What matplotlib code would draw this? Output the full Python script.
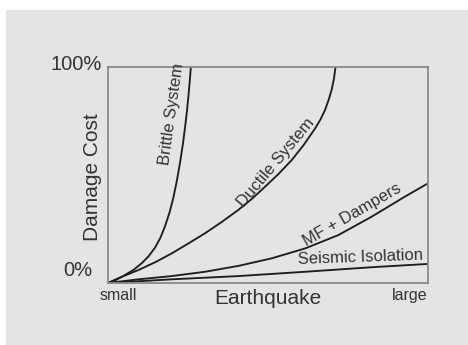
import matplotlib
matplotlib.use("Agg")
import matplotlib.pyplot as plt
from matplotlib.patches import Rectangle

plt.rcParams['font.family'] = ['Liberation Sans', 'DejaVu Sans']

# curves (x: earthquake size 0..1, y: damage cost 0..1)
brittle_x = [0, 0.025, 0.053, 0.08, 0.105, 0.127, 0.147, 0.164, 0.178, 0.192, 0.204, 0.215,
             0.225, 0.234, 0.241, 0.247, 0.251, 0.255, 0.259]
brittle_y = [0, 0.014, 0.037, 0.061, 0.091, 0.124, 0.164, 0.21, 0.262, 0.325, 0.393, 0.472,
             0.556, 0.643, 0.723, 0.80, 0.86, 0.927, 1.0]

ductile_x = [0, 0.032, 0.095, 0.15, 0.199, 0.25, 0.303, 0.355, 0.407, 0.45, 0.491, 0.533,
             0.574, 0.612, 0.647, 0.665, 0.678, 0.69, 0.699, 0.706, 0.711]
ductile_y = [0, 0.022, 0.060, 0.098, 0.137, 0.182, 0.230, 0.282, 0.338, 0.39, 0.446, 0.505,
             0.569, 0.64, 0.715, 0.76, 0.80, 0.85, 0.895, 0.945, 1.0]

mf_x = [0, 0.095, 0.199, 0.303, 0.407, 0.511, 0.616, 0.72, 0.824, 0.928, 0.996]
mf_y = [0, 0.017, 0.032, 0.052, 0.079, 0.114, 0.16, 0.222, 0.307, 0.40, 0.458]

iso_x = [0, 0.199, 0.407, 0.616, 0.824, 0.996]
iso_y = [0, 0.017, 0.032, 0.052, 0.073, 0.088]

labels = ['Brittle System', 'Ductile System', 'MF + Dampers', 'Seismic Isolation']

bg = '#e4e4e4'
ink = '#1e1e1e'
txt = '#333333'

fig = plt.figure(figsize=(4.68, 3.45), dpi=100)
fig.patch.set_facecolor('white')
fig.patches.append(Rectangle((6 / 468, 0), 1, 1 - 10 / 345, transform=fig.transFigure,
                             facecolor=bg, edgecolor='none', zorder=-5))

ax = fig.add_axes([108 / 468, 62 / 345, 320 / 468, 216 / 345])
ax.set_facecolor(bg)

for xs, ys in [(brittle_x, brittle_y), (ductile_x, ductile_y), (mf_x, mf_y), (iso_x, iso_y)]:
    ax.plot(xs, ys, color=ink, lw=1.35, solid_joinstyle='round', solid_capstyle='round')

ax.set_xlim(0, 1)
ax.set_ylim(0, 1)
ax.set_xticks([])
ax.set_yticks([])
for s in ax.spines.values():
    s.set_color('#8a8a8a')
    s.set_linewidth(1.3)

# curve labels
ax.text(0.2, 0.78, labels[0], rotation=82, ha='center', va='center', fontsize=12, color=txt)
ax.text(0.525, 0.556, labels[1], rotation=50, ha='center', va='center', fontsize=12, color=txt)
ax.text(0.7625, 0.315, labels[2], rotation=30, ha='center', va='center', fontsize=12, color=txt)
ax.text(0.7875, 0.12, labels[3], rotation=2, ha='center', va='center', fontsize=12, color=txt)

# axis texts
ax.text(-0.019, 1.01, '100%', transform=ax.transAxes, ha='right', va='center', fontsize=14.5, color=txt)
ax.text(-0.05, 0.06, '0%', transform=ax.transAxes, ha='right', va='center', fontsize=14.5, color=txt)
ax.text(0.031, -0.06, 'small', transform=ax.transAxes, ha='center', va='center', fontsize=11.5, color=txt)
ax.text(0.944, -0.06, 'large', transform=ax.transAxes, ha='center', va='center', fontsize=11.5, color=txt)
ax.text(0.5, -0.07, 'Earthquake', transform=ax.transAxes, ha='center', va='center', fontsize=15, color=txt)
ax.text(-0.047, 0.49, 'Damage Cost', transform=ax.transAxes, rotation=90, ha='center', va='center',
        fontsize=15, color=txt)

fig.savefig('out.png', dpi=100)
